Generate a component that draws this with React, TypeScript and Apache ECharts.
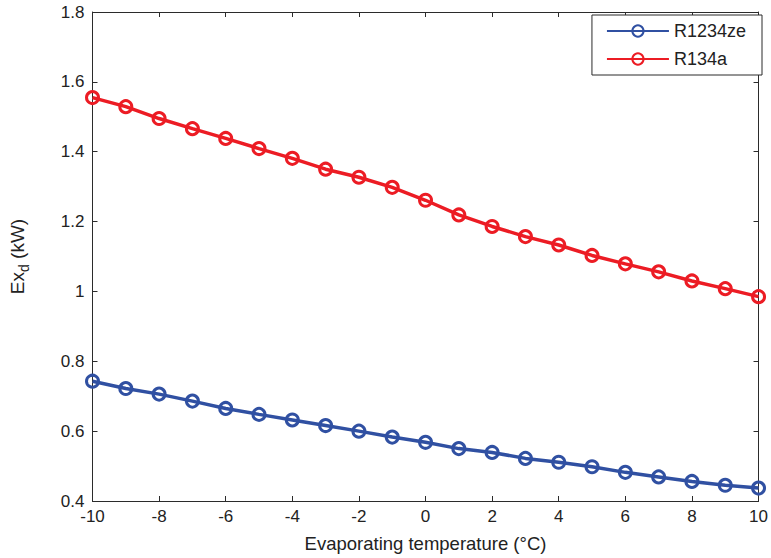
import React, { useEffect, useRef } from "react";
import * as echarts from "echarts";

const temps = [-10, -9, -8, -7, -6, -5, -4, -3, -2, -1, 0, 1, 2, 3, 4, 5, 6, 7, 8, 9, 10];
const r1234ze = [0.743, 0.722, 0.706, 0.686, 0.665, 0.648, 0.632, 0.616, 0.600, 0.583, 0.568, 0.550, 0.539, 0.522, 0.511, 0.498, 0.482, 0.469, 0.456, 0.445, 0.437];
const r134a = [1.555, 1.529, 1.495, 1.466, 1.438, 1.409, 1.381, 1.350, 1.327, 1.298, 1.261, 1.219, 1.186, 1.157, 1.133, 1.103, 1.079, 1.056, 1.030, 1.008, 0.985];
const seriesNames = ["R1234ze", "R134a"];
const colors = ["#3050a2", "#ec1c24"];

const FONT = "Liberation Sans";

export default function App() {
  const ref = useRef<HTMLDivElement>(null);
  useEffect(() => {
    if (!ref.current) return;
    const chart = echarts.init(ref.current, undefined, { renderer: "svg" });
    const axisLine = { show: true, onZero: false, lineStyle: { color: "#2b2b2b", width: 1 } };
    const tick = { inside: true, length: 5, lineStyle: { color: "#2b2b2b" } };
    const mk = (name: string, data: number[], color: string) => ({
      name,
      type: "line",
      data: temps.map((t, i) => [t, data[i]]),
      symbol: "circle",
      symbolSize: 12,
      lineStyle: { color, width: 3.5 },
      itemStyle: { color: "rgba(255,255,255,0)", borderColor: color, borderWidth: 3 },
      color,
      z: 3,
    });
    chart.setOption({
      animation: false,
      backgroundColor: "#fff",
      textStyle: { fontFamily: FONT },
      grid: { left: 89, right: 9, top: 12, bottom: 55 },
      legend: {
        orient: "vertical",
        right: 9,
        top: 15,
        padding: [7, 16, 7, 14],
        itemWidth: 62,
        itemHeight: 14,
        itemGap: 10,
        borderColor: "#2b2b2b",
        borderWidth: 1,
        backgroundColor: "#fff",
        textStyle: { fontFamily: FONT, fontSize: 18, lineHeight: 18, color: "#222" },
        data: seriesNames,
      },
      xAxis: [
        {
          type: "value",
          min: -10,
          max: 10,
          interval: 2,
          name: "Evaporating temperature (°C)",
          nameLocation: "middle",
          nameGap: 33,
          nameTextStyle: { fontFamily: FONT, fontSize: 18.5, color: "#222" },
          axisLine,
          axisTick: tick,
          axisLabel: { fontFamily: FONT, fontSize: 17, color: "#222", margin: 7 },
          splitLine: { show: false },
        },
        {
          type: "value",
          position: "top",
          min: -10,
          max: 10,
          interval: 2,
          axisLine,
          axisTick: tick,
          axisLabel: { show: false },
          splitLine: { show: false },
        },
      ],
      yAxis: [
        {
          type: "value",
          min: 0.4,
          max: 1.8,
          interval: 0.2,
          name: "{a|Ex}{b|d}{a| (kW)}",
          nameLocation: "middle",
          nameGap: 62,
          nameTextStyle: {
            rich: {
              a: { fontFamily: FONT, fontSize: 19, color: "#222" },
              b: { fontFamily: FONT, fontSize: 14, color: "#222", padding: [12, 0, 0, 0] },
            },
          },
          axisLine,
          axisTick: tick,
          axisLabel: {
            fontFamily: FONT,
            fontSize: 17,
            color: "#222",
            margin: 8,
            formatter: (v: number) => String(Math.round(v * 10) / 10),
          },
          splitLine: { show: false },
        },
        {
          type: "value",
          position: "right",
          min: 0.4,
          max: 1.8,
          interval: 0.2,
          axisLine,
          axisTick: tick,
          axisLabel: { show: false },
          splitLine: { show: false },
        },
      ],
      series: [mk(seriesNames[0], r1234ze, colors[0]), mk(seriesNames[1], r134a, colors[1])],
    });
    return () => chart.dispose();
  }, []);
  return <div ref={ref} style={{ width: 771, height: 558, position: "absolute", left: 0, top: 0 }} />;
}
